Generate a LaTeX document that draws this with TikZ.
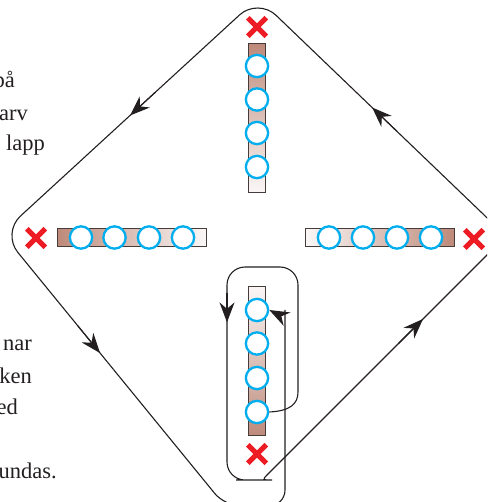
\documentclass[tikz,border=0pt]{standalone}
\usepackage{fontspec}
\setmainfont{Liberation Serif}
\usetikzlibrary{shapes.misc,arrows.meta,calc}
\definecolor{cyanc}{RGB}{0,174,239}
\definecolor{redc}{RGB}{237,28,36}
\definecolor{barbrown}{RGB}{190,138,122}
\definecolor{barlight}{RGB}{250,247,246}
\definecolor{barline}{RGB}{70,60,60}
\definecolor{ink}{RGB}{35,31,32}
\begin{document}
\begin{tikzpicture}[x=1pt,y=-1pt,
  bead/.style={circle,draw=cyanc,fill=white,line width=2.3pt,minimum size=22.3pt,inner sep=0pt},
  redcross/.style={cross out,draw=redc,line width=5pt,minimum size=13.5pt,inner sep=0pt},
  vbar/.style={draw=barline,line width=0.8pt,minimum width=17.5pt,minimum height=149.2pt,inner sep=0pt},
  hbar/.style={draw=barline,line width=0.8pt,minimum width=149.2pt,minimum height=17.8pt,inner sep=0pt},
  route/.style={draw=ink,line width=1.1pt},
  tipstyle/.style={-{Stealth[length=20pt,width=15pt,inset=6.5pt]}},
  arr/.style={route,tipstyle},
  txt/.style={font=\fontsize{22.5}{27}\selectfont,text=ink,inner sep=0pt,anchor=base east}]
\clip (0,0) rectangle (487,502);

% text fragments at the left edge
\node[txt] (w1) at (15,88) {på};
\node[txt] (w2) at (28,121) {arv};
\node[txt] (w3) at (45,151) {lapp};
\node[txt] (w4) at (32,350) {nar};
\node[txt] (w5) at (32,383) {ken};
\node[txt] (w6) at (18,414) {ed};
\node[txt] (w7) at (57,478) {undas.};

% bars
\node[vbar, top color=barbrown, bottom color=barlight] (bartop) at (257,118) {};
\node[hbar, left color=barbrown, right color=barlight] (barleft) at (132,237.5) {};
\node[hbar, left color=barlight, right color=barbrown] (barright) at (379.5,237.5) {};
\node[vbar, top color=barlight, bottom color=barbrown] (barbot) at (257,361) {};

% beads
\node[bead] (ct1) at (257,66) {};
\node[bead] (ct2) at (257,99.5) {};
\node[bead] (ct3) at (257,133) {};
\node[bead] (ct4) at (257,167) {};
\node[bead] (cl1) at (81,237.5) {};
\node[bead] (cl2) at (114.5,237.5) {};
\node[bead] (cl3) at (149,237.5) {};
\node[bead] (cl4) at (183,237.5) {};
\node[bead] (cr1) at (329,237.5) {};
\node[bead] (cr2) at (363,237.5) {};
\node[bead] (cr3) at (397,237.5) {};
\node[bead] (cr4) at (431,237.5) {};
\node[bead] (cb1) at (257,310) {};
\node[bead] (cb2) at (257,343.5) {};
\node[bead] (cb3) at (257,378) {};
\node[bead] (cb4) at (257,412) {};

% red crosses
\node[redcross] (xt) at (257,27) {};
\node[redcross] (xl) at (36,238) {};
\node[redcross] (xr) at (474,239) {};
\node[redcross] (xb) at (257,454) {};

% route corner points
\coordinate (T) at (258,-2);
\coordinate (L) at (2,233);
\coordinate (R) at (506,236);
\coordinate (B1) at (225,506);
\coordinate (B2) at (285,506);
\coordinate (UP) at (285,326);
\coordinate (LT) at (227,267);
\coordinate (RT) at (298,267);
\coordinate (RS) at (298,392);
\coordinate (LB) at (227,480);
\coordinate (C) at (262,480);
\coordinate (CA) at (254,480);
\coordinate (CB) at (268,474);
\coordinate (MCR) at ($(C)!0.5!(R)$);
\coordinate (MLB) at ($(L)!0.5!(B1)$);

% loop round the bottom bar
\draw[route] (cb4.east) .. controls (290,411) and (298,404) .. (RS)
  [rounded corners=18pt] -- (RT) -- (LT) -- (LB) -- (CA)
  [sharp corners] .. controls (C) .. (CB) -- (MCR);
% outer diamond
\draw[route, rounded corners=25pt] (MCR) -- (R) -- (T) -- (L) -- (MLB);
% bottom return into the first bead
\draw[route, tipstyle, rounded corners=16pt] (MLB) -- (B1) -- (B2) -- (UP)
  [sharp corners] .. controls (285,317) and (279,315) .. (cb1.east);

% direction arrows
\draw[arr] ($(T)!0.40!(L)$) -- ($(T)!0.5!(L)$);
\draw[arr] ($(L)!0.34!(B1)$) -- ($(L)!0.44!(B1)$);
\draw[arr] ($(LT)!0.12!(LB)$) -- ($(LT)!0.26!(LB)$);
\draw[arr] ($(C)!0.56!(R)$) -- ($(C)!0.66!(R)$);
\draw[arr] ($(R)!0.44!(T)$) -- ($(R)!0.54!(T)$);
\end{tikzpicture}
\end{document}
